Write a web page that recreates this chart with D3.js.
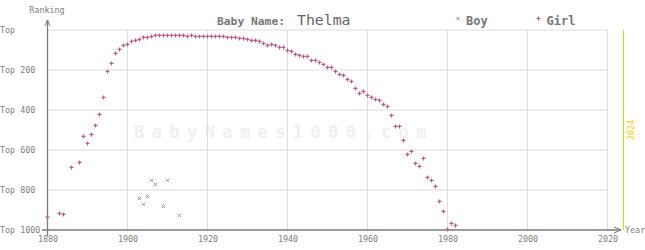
<!DOCTYPE html>
<html>
<head>
<meta charset="utf-8">
<script src="https://cdn.jsdelivr.net/npm/d3@7"></script>
<style>
  body { margin: 0; background: #fff; }
  svg text { font-family: "DejaVu Sans Mono", "Liberation Mono", monospace; }
</style>
</head>
<body>
<svg id="chart" width="645" height="250"></svg>
<script>
// data: [year, rank]
const girlData = [
  [1880, 936], [1883, 917], [1884, 922], [1886, 687], [1888, 662], [1889, 532],
  [1890, 567], [1891, 522], [1892, 477], [1893, 422], [1894, 337], [1895, 207],
  [1896, 167], [1897, 117], [1898, 97], [1899, 77], [1900, 72], [1901, 57],
  [1902, 52], [1903, 47], [1904, 37], [1905, 37], [1906, 32], [1907, 27],
  [1908, 27], [1909, 27], [1910, 27], [1911, 27], [1912, 27], [1913, 27],
  [1914, 27], [1915, 32], [1916, 27], [1917, 32], [1918, 32], [1919, 32],
  [1920, 32], [1921, 32], [1922, 32], [1923, 32], [1924, 32], [1925, 37],
  [1926, 37], [1927, 37], [1928, 42], [1929, 42], [1930, 47], [1931, 52],
  [1932, 52], [1933, 57], [1934, 67], [1935, 77], [1936, 72], [1937, 77],
  [1938, 87], [1939, 87], [1940, 102], [1941, 107], [1942, 122], [1943, 127],
  [1944, 132], [1945, 132], [1946, 152], [1947, 152], [1948, 162], [1949, 172],
  [1950, 187], [1951, 187], [1952, 207], [1953, 222], [1954, 227], [1955, 247],
  [1956, 257], [1957, 292], [1958, 317], [1959, 307], [1960, 327], [1961, 337],
  [1962, 347], [1963, 352], [1964, 372], [1965, 382], [1966, 427], [1967, 482],
  [1968, 482], [1969, 552], [1970, 622], [1971, 607], [1972, 667], [1973, 682],
  [1974, 642], [1975, 737], [1976, 752], [1977, 782], [1978, 857], [1979, 907],
  [1980, 997], [1981, 967], [1982, 977]
];
const boyData = [
  [1903, 842], [1904, 872], [1905, 832], [1906, 752], [1907, 772], [1909, 882], [1910, 752]
];
const boyLight = [[1913, 927]];

const yearTicks = [1880, 1900, 1920, 1940, 1960, 1980, 2000, 2020];
const rankTicks = [0, 200, 400, 600, 800, 1000];
const babyName = "Thelma";
const currentYear = 2024;

const svg = d3.select("#chart");

const x = d3.scaleLinear().domain([1880, 2020]).range([47.5, 607.5]);
const y = d3.scaleLinear().domain([0, 1000]).range([30, 230]);

const gridColor = "#dddddd";
const axisColor = "#7a7a7a";
const textColor = "#808080";

// watermark
svg.append("text")
  .attr("x", 284).attr("y", 138)
  .attr("text-anchor", "middle")
  .attr("font-size", 17).attr("font-weight", "bold")
  .attr("letter-spacing", 7.4)
  .attr("fill", "#f0f0f0")
  .text("BabyNames1000.com");

// grid
svg.append("g").selectAll("line")
  .data(rankTicks.filter(d => d < 1000))
  .join("line")
  .attr("x1", x(1880)).attr("x2", x(2020))
  .attr("y1", d => y(d)).attr("y2", d => y(d))
  .attr("stroke", gridColor).attr("stroke-width", 1);

svg.append("g").selectAll("line")
  .data(yearTicks.filter(d => d > 1880))
  .join("line")
  .attr("x1", d => x(d)).attr("x2", d => x(d))
  .attr("y1", y(0)).attr("y2", y(1000))
  .attr("stroke", gridColor).attr("stroke-width", 1);

// y axis labels
const yAxis = d3.axisLeft(y).tickValues(rankTicks).tickSize(0)
  .tickFormat(d => d === 0 ? "Top" : "Top " + d);
const gy = svg.append("g").call(yAxis);
gy.select(".domain").remove();
gy.selectAll("text")
  .attr("text-anchor", "start").attr("x", 0).attr("dy", "0.32em")
  .attr("font-family", "DejaVu Sans Mono, monospace")
  .attr("font-size", 8.4).attr("fill", textColor);

// x axis labels
const xAxis = d3.axisBottom(x).tickValues(yearTicks).tickSize(0).tickFormat(d3.format("d"));
const gx = svg.append("g").attr("transform", "translate(0,236)").call(xAxis);
gx.select(".domain").remove();
gx.selectAll("text")
  .attr("y", 0).attr("dy", "0.71em")
  .attr("font-family", "DejaVu Sans Mono, monospace")
  .attr("font-size", 8.4).attr("fill", textColor);

// axes lines with arrows
svg.append("line")
  .attr("x1", x(1880)).attr("x2", x(1880)).attr("y1", 20).attr("y2", 236)
  .attr("stroke", axisColor).attr("stroke-width", 1.3);
svg.append("path")
  .attr("d", `M${x(1880) - 2.5},26 L${x(1880)},20 L${x(1880) + 2.5},26`)
  .attr("fill", "none").attr("stroke", axisColor).attr("stroke-width", 1);
svg.append("line")
  .attr("x1", 42).attr("x2", 621).attr("y1", y(1000)).attr("y2", y(1000))
  .attr("stroke", axisColor).attr("stroke-width", 1.3);
svg.append("path")
  .attr("d", `M614,${y(1000) - 3} L621,${y(1000)} L614,${y(1000) + 3}`)
  .attr("fill", "none").attr("stroke", axisColor).attr("stroke-width", 1);

svg.append("text")
  .attr("x", 47).attr("y", 12.5).attr("text-anchor", "middle")
  .attr("font-size", 8.4).attr("fill", textColor).text("Ranking");
svg.append("text")
  .attr("x", 625).attr("y", 233).attr("font-size", 8.4)
  .attr("fill", textColor).text("Year");

// current year line
const cx = 47.5 + (currentYear - 1880) * (x(1881) - x(1880));
svg.append("line")
  .attr("x1", cx).attr("x2", cx).attr("y1", y(0)).attr("y2", y(1000))
  .attr("stroke", "#f0d000").attr("stroke-width", 1);
svg.append("text")
  .attr("transform", `translate(${cx + 10},${130}) rotate(-90)`)
  .attr("text-anchor", "middle")
  .attr("font-size", 8.4).attr("fill", "#f0d000")
  .text(String(currentYear));

// title + legend
svg.append("text")
  .attr("x", 217).attr("y", 24.5)
  .attr("font-size", 11.3).attr("font-weight", "bold").attr("fill", "#777")
  .text("Baby Name:");
svg.append("text")
  .attr("x", 297).attr("y", 25)
  .attr("font-size", 14.8).attr("fill", "#666")
  .text(babyName);

const girlColor = "#c05a86";
const boyColor = "#7f8dbd";

function plus(g, cxp, cyp, s) {
  g.append("path")
    .attr("d", `M${cxp - s},${cyp} H${cxp + s} M${cxp},${cyp - s} V${cyp + s}`);
}
function cross(g, cxp, cyp, s) {
  g.append("path")
    .attr("d", `M${cxp - s},${cyp - s} L${cxp + s},${cyp + s} M${cxp - s},${cyp + s} L${cxp + s},${cyp - s}`);
}

const leg = svg.append("g");
const lb = leg.append("g").attr("stroke", boyColor).attr("stroke-width", 1);
cross(lb, 458, 18.5, 1.6);
leg.append("text").attr("x", 466).attr("y", 24.5)
  .attr("font-size", 12).attr("font-weight", "bold").attr("fill", "#777").text("Boy");
const lgp = leg.append("g").attr("stroke", girlColor).attr("stroke-width", 1.2);
plus(lgp, 538.5, 18.5, 2);
leg.append("text").attr("x", 546.5).attr("y", 24.5)
  .attr("font-size", 12).attr("font-weight", "bold").attr("fill", "#777").text("Girl");

// marks
const gBoy = svg.append("g").attr("stroke", boyColor).attr("stroke-width", 1).attr("fill", "none");
boyData.forEach(d => cross(gBoy, x(d[0]), y(d[1]), 1.6));
const gBoy2 = svg.append("g").attr("stroke", "#5ea6e6").attr("stroke-width", 1).attr("fill", "none");
boyLight.forEach(d => cross(gBoy2, x(d[0]), y(d[1]), 1.6));

const gGirl = svg.append("g").attr("stroke", girlColor).attr("stroke-width", 1.2).attr("fill", "none");
girlData.forEach(d => plus(gGirl, x(d[0]), y(d[1]), 2));
</script>
</body>
</html>
